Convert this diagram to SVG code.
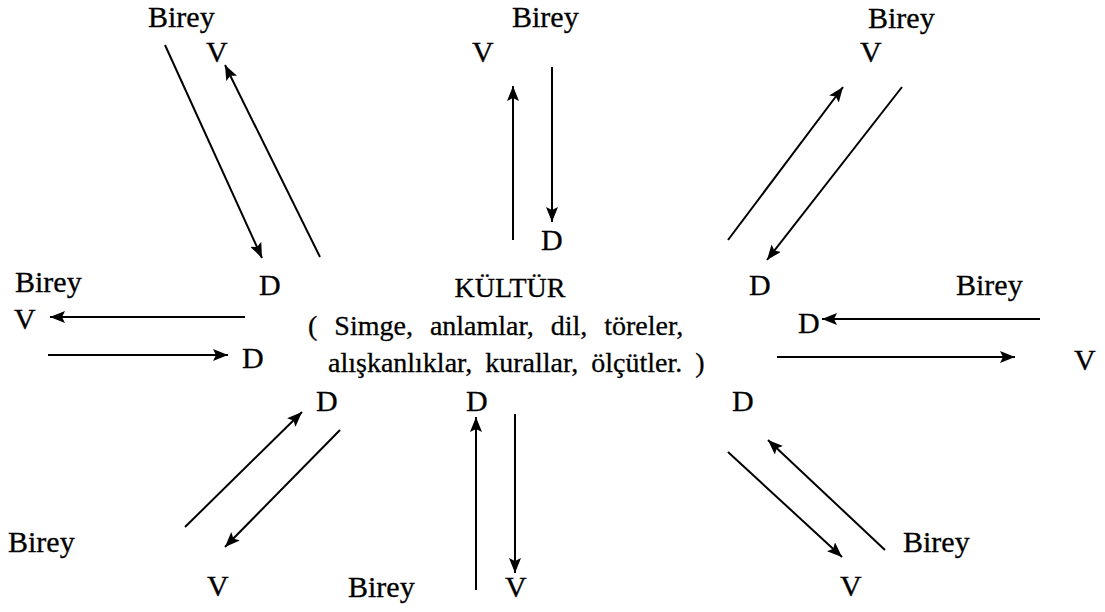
<svg xmlns="http://www.w3.org/2000/svg" width="1105" height="612" viewBox="0 0 1105 612">
<defs>
<style>
text{font-family:"Liberation Serif","Times New Roman",serif;font-size:30px;fill:#000;stroke:#000;stroke-width:0.3}
.mid{font-size:28px}
.c line{stroke:#000;stroke-width:2;fill:none;marker-end:url(#ah)}
</style>
<marker id="ah" markerUnits="userSpaceOnUse" markerWidth="16" markerHeight="12" refX="15" refY="6" orient="auto">
<path d="M0,0 L15,6 L0,12 L3,6 z" fill="#000"/>
</marker>
</defs>
<rect width="1105" height="612" fill="#fff"/>
<g id="kultur">
<text class="mid" x="510" y="297" text-anchor="middle">KÜLTÜR</text>
<text class="mid" x="308" y="335" word-spacing="10">( Simge, anlamlar, dil, töreler,</text>
<text class="mid" x="328" y="372" word-spacing="6">alışkanlıklar, kurallar, ölçütler. )</text>
</g>
<g id="birey-tl"><text x="148" y="27">Birey</text><text x="206" y="62">V</text><text x="259" y="295">D</text></g>
<g id="birey-tc"><text x="512" y="27">Birey</text><text x="472" y="62">V</text><text x="541" y="250">D</text></g>
<g id="birey-tr"><text x="868" y="28">Birey</text><text x="860" y="62">V</text><text x="749" y="295">D</text></g>
<g id="birey-l"><text x="15" y="292">Birey</text><text x="14" y="329">V</text><text x="242" y="368">D</text></g>
<g id="birey-r"><text x="956" y="295">Birey</text><text x="798" y="333">D</text><text x="1074" y="370">V</text></g>
<g id="birey-bl"><text x="8" y="552">Birey</text><text x="316" y="411">D</text><text x="207" y="596">V</text></g>
<g id="birey-bc"><text x="348" y="597">Birey</text><text x="466" y="411">D</text><text x="505" y="597">V</text></g>
<g id="birey-br"><text x="903" y="552">Birey</text><text x="732" y="411">D</text><text x="840" y="596">V</text></g>
<g id="connectors" class="c">
<line x1="165" y1="45" x2="262" y2="258"/>
<line x1="320" y1="257" x2="225" y2="65"/>
<line x1="513" y1="240" x2="513" y2="86"/>
<line x1="552" y1="67" x2="552" y2="222"/>
<line x1="728" y1="240" x2="843" y2="87"/>
<line x1="902" y1="87" x2="767" y2="260"/>
<line x1="245" y1="317" x2="50" y2="317"/>
<line x1="48" y1="355" x2="228" y2="355"/>
<line x1="1040" y1="319" x2="822" y2="319"/>
<line x1="777" y1="357" x2="1015" y2="357"/>
<line x1="185" y1="527" x2="302" y2="412"/>
<line x1="340" y1="430" x2="225" y2="547"/>
<line x1="476" y1="590" x2="476" y2="417"/>
<line x1="515" y1="414" x2="515" y2="573"/>
<line x1="728" y1="452" x2="842" y2="557"/>
<line x1="885" y1="550" x2="768" y2="440"/>
</g>
</svg>
